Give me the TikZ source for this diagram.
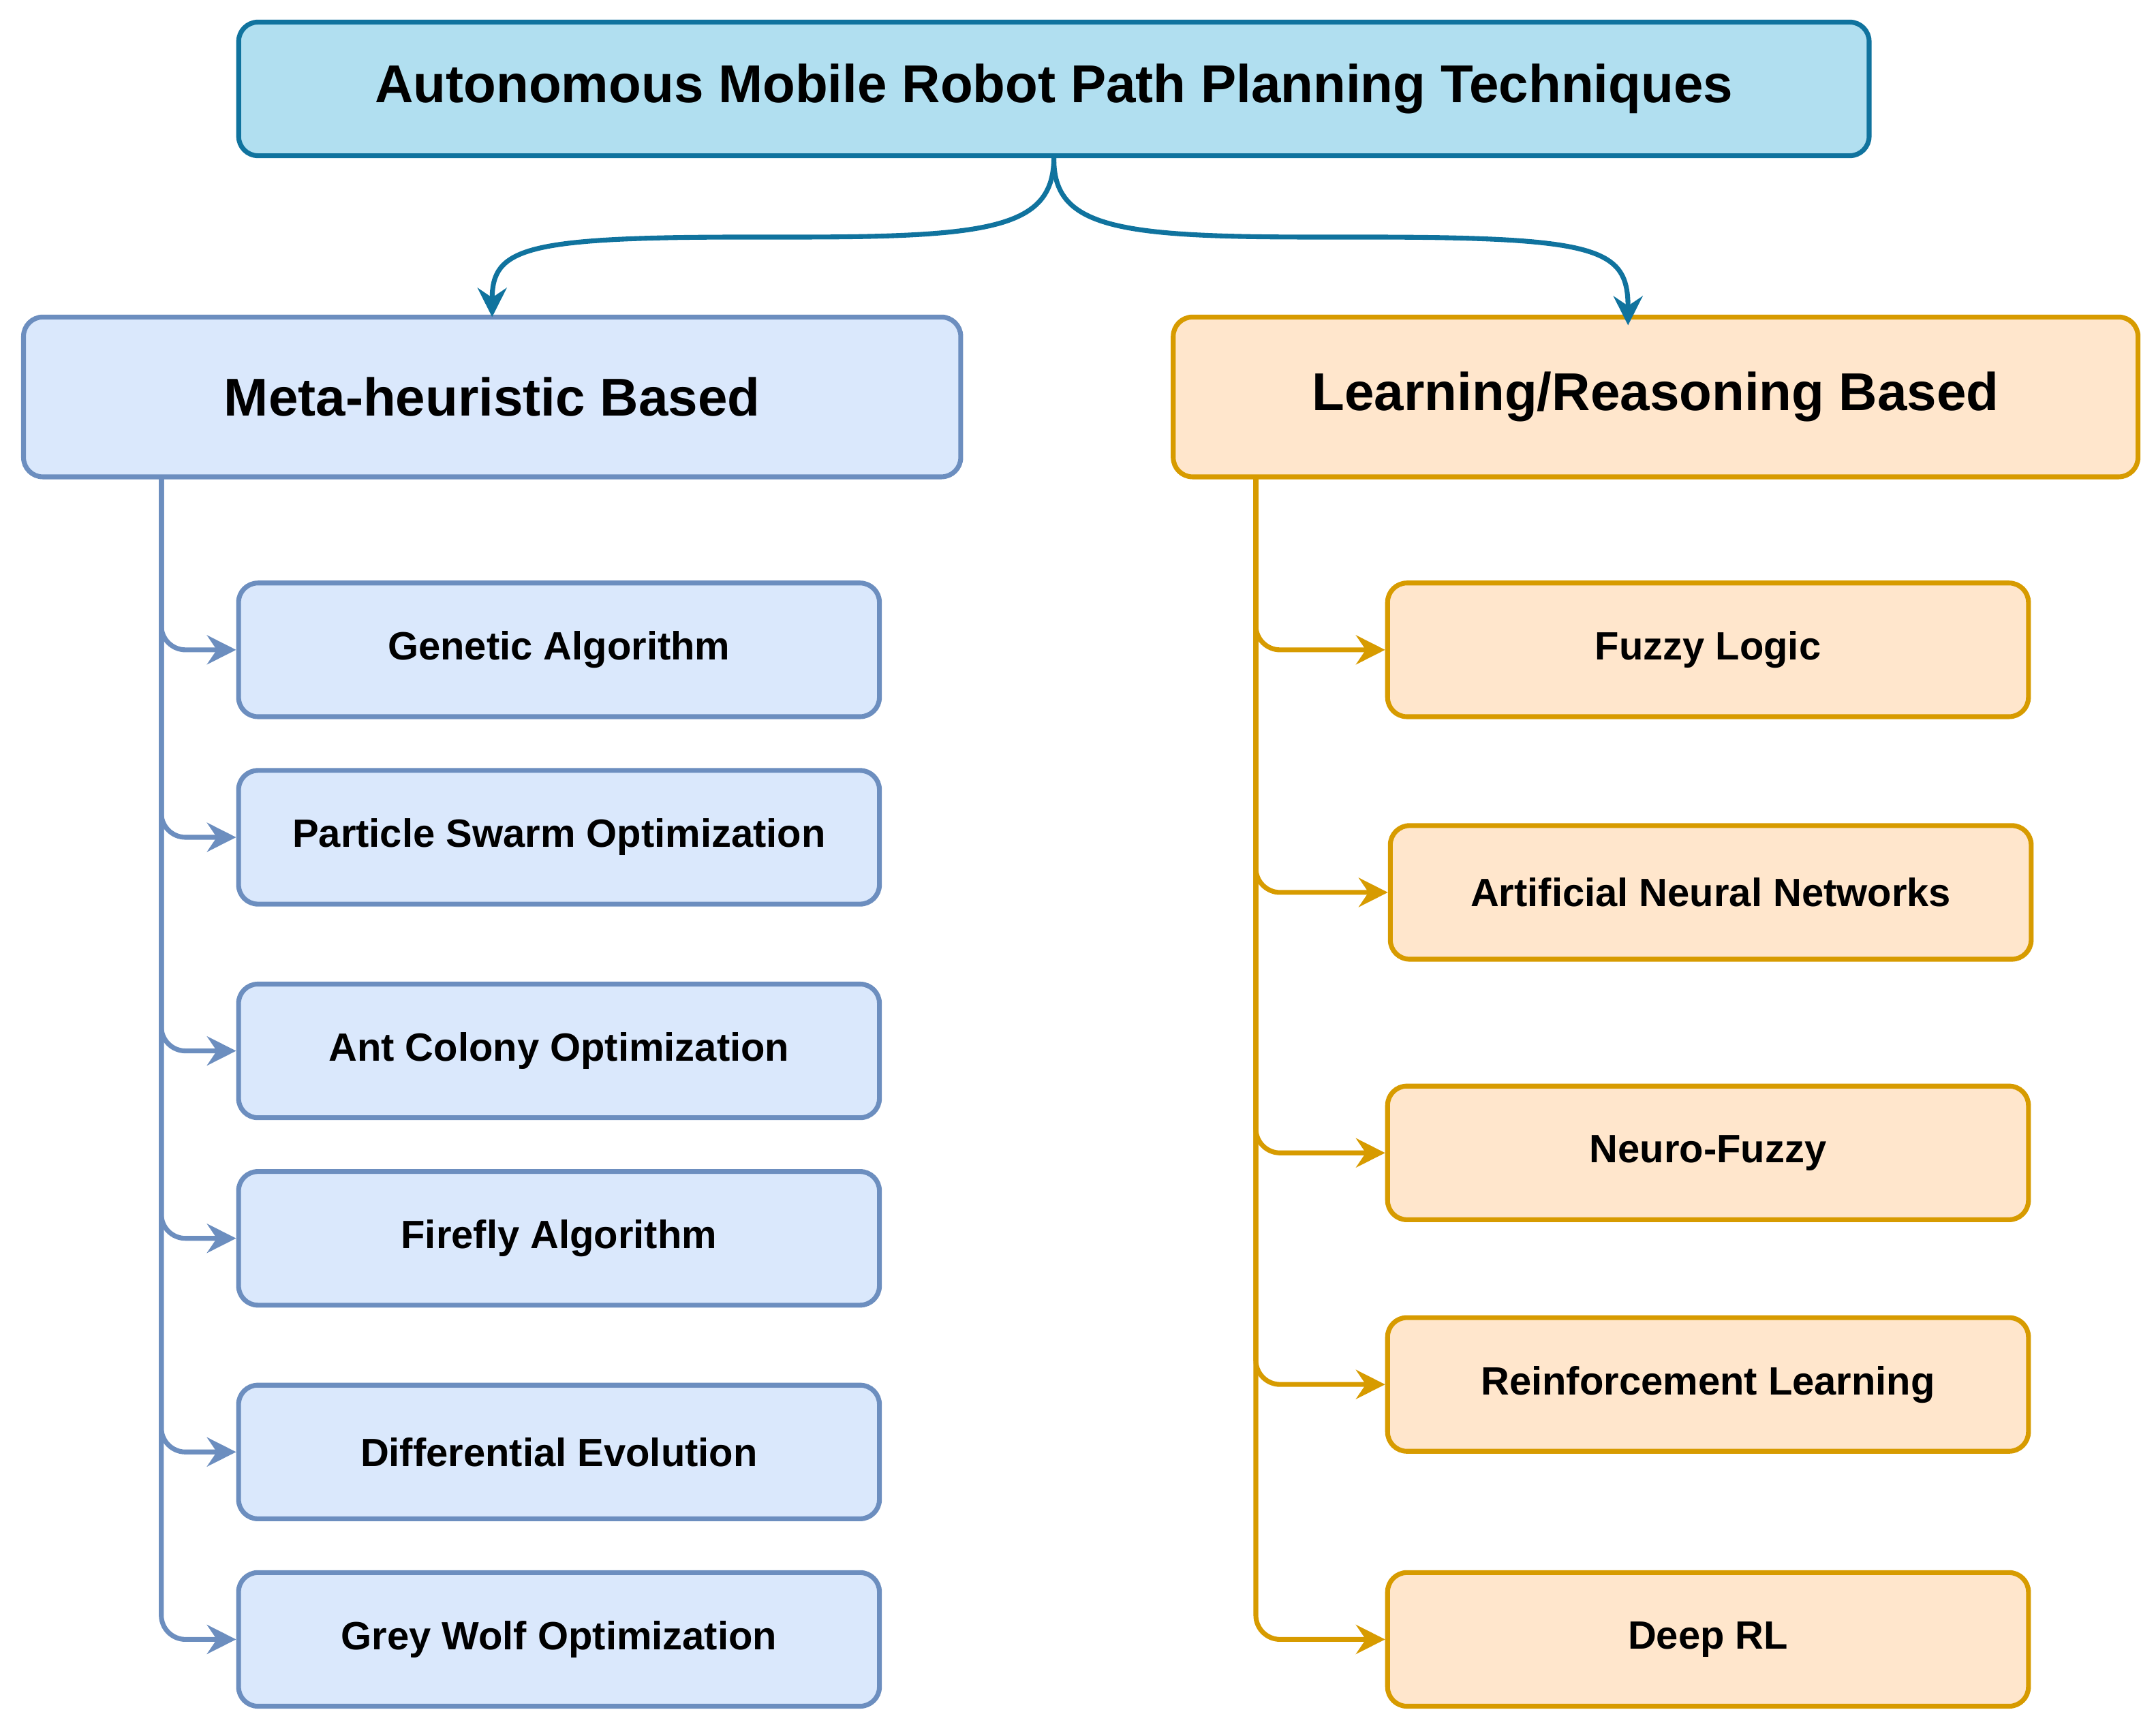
\documentclass[tikz,border=0pt]{standalone}
\usepackage{fontspec}
\setmainfont{Liberation Sans}
\usetikzlibrary{arrows.meta}
\definecolor{tf}{HTML}{B1DFF0}\definecolor{ts}{HTML}{10739E}
\definecolor{bf}{HTML}{DAE8FC}\definecolor{bs}{HTML}{6C8EBF}
\definecolor{of}{HTML}{FFE6CC}\definecolor{os}{HTML}{D79B00}
\begin{document}
\begin{tikzpicture}[x=0.02cm,y=-0.02cm,
 box/.style={draw,line width=2pt,rounded corners=8pt,font=\bfseries,inner sep=0pt},
 blue/.style={box,fill=bf,draw=bs},
 orange/.style={box,fill=of,draw=os},
 child/.style={minimum width=9.3cm,minimum height=1.94cm,font=\bfseries\fontsize{16.3}{19}\selectfont},
 arr/.style={line width=2pt,rounded corners=10pt,-{Stealth[length=12pt,width=12pt,inset=4pt]}}]
\useasboundingbox (0,0) rectangle (1564,1252.6);
\node[box,fill=tf,draw=ts,minimum width=23.66cm,minimum height=1.94cm,font=\bfseries\fontsize{22}{26}\selectfont] (top) at (764.5,64.5) {Autonomous Mobile Robot Path Planning Techniques};
\node[blue,minimum width=13.6cm,minimum height=2.32cm,font=\bfseries\fontsize{22}{26}\selectfont] (meta) at (357,288) {Meta-heuristic Based};
\node[orange,minimum width=14cm,minimum height=2.32cm,font=\bfseries\fontsize{22}{26}\selectfont] (learn) at (1201,288) {Learning/Reasoning Based};
\draw[arr,draw=ts] (top.south) .. controls (764,165) and (720,172) .. (560,172) .. controls (380,172) and (357,180) .. (357,230);
\draw[arr,draw=ts] (top.south) .. controls (764,165) and (810,172) .. (970,172) .. controls (1160,172) and (1181,180) .. (1181,236);
\foreach \n/\y/\t in {ga/471.5/Genetic Algorithm,pso/607.5/Particle Swarm Optimization,aco/762.5/Ant Colony Optimization,fa/898.5/Firefly Algorithm,de/1053.5/Differential Evolution,gwo/1189.5/Grey Wolf Optimization}{
 \node[blue,child] (\n) at (405.5,\y) {\t};
 \draw[arr,draw=bs] (117,346) |- (\n.west);}
\foreach \n/\x/\y/\t in {fl/1239/471.5/Fuzzy Logic,ann/1241/647.5/Artificial Neural Networks,nf/1239/836.5/Neuro-Fuzzy,rl/1239/1004.5/Reinforcement Learning,drl/1239/1189.5/Deep RL}{
 \node[orange,child] (\n) at (\x,\y) {\t};
 \draw[arr,draw=os] (911,346) |- (\n.west);}
\end{tikzpicture}
\end{document}
